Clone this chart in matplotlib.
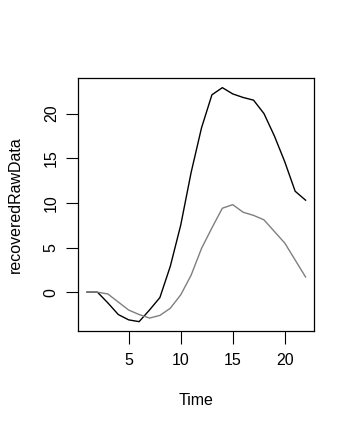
import matplotlib
matplotlib.use("Agg")
import matplotlib.pyplot as plt

plt.rcParams['font.family'] = ['Liberation Sans', 'DejaVu Sans']

time = list(range(1, 23))
series1 = [0, 0, -1.2, -2.5, -3.1, -3.3, -2.0, -0.6, 2.9, 7.5, 13.4, 18.4,
           22.1, 22.9, 22.2, 21.8, 21.5, 20.0, 17.5, 14.6, 11.3, 10.3]
series2 = [0, 0, -0.2, -1.1, -2.0, -2.5, -2.9, -2.6, -1.8, -0.3, 1.9, 4.9,
           7.2, 9.4, 9.8, 8.95, 8.6, 8.1, 6.8, 5.5, 3.6, 1.7]
xticks = [5, 10, 15, 20]
yticks = [0, 5, 10, 15, 20]

fig = plt.figure(figsize=(3.55, 4.29), dpi=100)
ax = fig.add_axes([0.2206, 0.2284, 0.6648, 0.5891])

ax.plot(time, series1, color='black', lw=1.0)
ax.plot(time, series2, color='#7f7f7f', lw=1.0)

# R style 4% padding
lo = min(min(series1), min(series2))
hi = max(max(series1), max(series2))
pad = (hi - lo) * 0.04
ax.set_ylim(lo - pad, hi + pad)
ax.set_xlim(1 - 21 * 0.04, 22 + 21 * 0.04)

ax.set_xticks(xticks)
ax.set_yticks(yticks)
ax.tick_params(axis='both', length=9, width=0.8, labelsize=11.5, color='black')
ax.tick_params(axis='x', pad=7)
ax.tick_params(axis='y', pad=5)
for lab in ax.get_yticklabels():
    lab.set_rotation(90)
    lab.set_va('center')
for s in ax.spines.values():
    s.set_linewidth(0.9)

ax.set_xlabel("Time", fontsize=11.5, labelpad=18)
ax.set_ylabel("recoveredRawData", fontsize=11.5, labelpad=15)

fig.savefig("out.png", dpi=100)
